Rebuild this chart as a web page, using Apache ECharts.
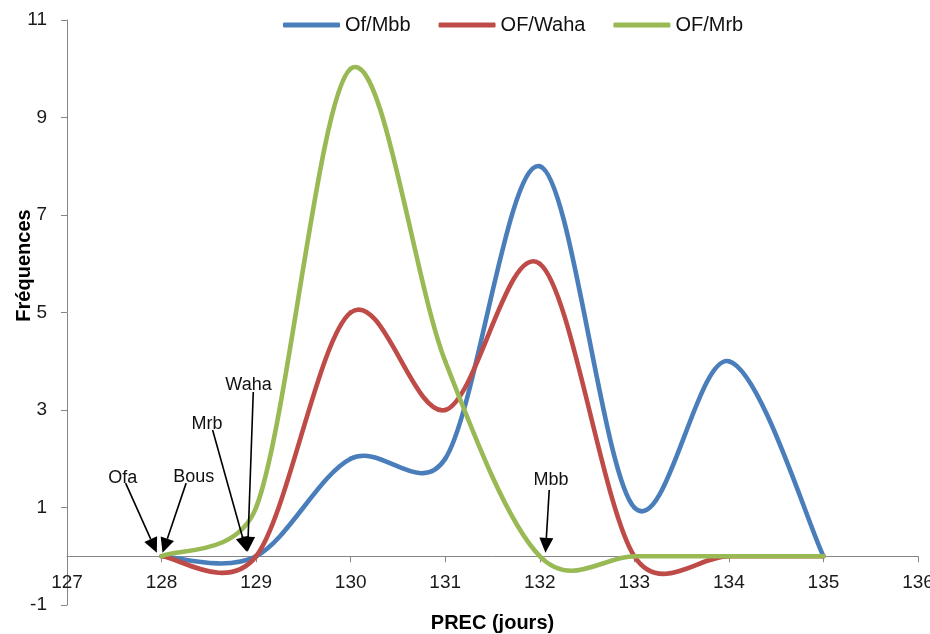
<!DOCTYPE html>
<html><head><meta charset="utf-8">
<script src="https://cdn.jsdelivr.net/npm/echarts@6/dist/echarts.min.js"></script>
<style>html,body{margin:0;padding:0;background:#fff}#c{width:930px;height:634px}</style>
</head><body><div id="c"></div>
<script>
// ---- data ----
const xValues = [128, 129, 130, 131, 132, 133, 134, 135];
const ofMbb   = [0, 0, 2, 2, 8, 1, 4, 0];
const ofWaha  = [0, 0, 5, 3, 6, 0, 0, 0];
const ofMrb   = [0, 1, 10, 4, 0, 0, 0, 0];
const seriesNames = ['Of/Mbb', 'OF/Waha', 'OF/Mrb'];
const xAxisRange = [127, 136];
const yAxisRange = [-1, 11];
// annotation arrows (data coordinates)
const annotationLabels = ['Ofa', 'Bous', 'Mrb', 'Waha', 'Mbb'];
const annotationFrom = [[127.62, 1.50], [128.26, 1.50], [128.54, 2.59], [128.97, 3.37], [132.10, 1.36]];
const annotationTo   = [[127.95, 0.07], [128.01, 0.07], [128.90, 0.09], [128.91, 0.09], [132.06, 0.07]];
const annotationText = [[127.59, 1.61], [128.34, 1.63], [128.48, 2.71], [128.92, 3.51], [132.12, 1.56]];

const FONT = 'Liberation Sans, Arial, sans-serif';
const colors = ['#4A7EBB', '#BE4B48', '#98B954'];
const GRID = { left: 67, right: 12, top: 20, bottom: 29 };
// shift the x axis (line, ticks, labels, name) up to the y = 0 position
const xAxisOffset = -(634 - GRID.top - GRID.bottom) / (yAxisRange[1] - yAxisRange[0]) * (0 - yAxisRange[0]);

function curveSeries(name, values, color) {
  const n = xValues.length;
  return {
    type: 'custom', name: name, coordinateSystem: 'cartesian2d',
    data: xValues.map((x, i) => [x, values[i]]),
    encode: { x: 0, y: 1 },
    itemStyle: { color: color },
    renderItem: function (params, api) {
      const i = params.dataIndex;
      if (i >= n - 1) return { type: 'group', children: [] };
      const P = j => { const k = Math.max(0, Math.min(n - 1, j)); return api.coord([xValues[k], values[k]]); };
      const p0 = P(i - 1), p1 = P(i), p2 = P(i + 1), p3 = P(i + 2);
      const seg = Math.hypot(p2[0] - p1[0], p2[1] - p1[1]);
      const lim = v => { const L = Math.hypot(v[0], v[1]); const m = 0.5 * seg; return (L > m && L > 0) ? [v[0] * m / L, v[1] * m / L] : v; };
      const t1 = lim([(p2[0] - p0[0]) / 6, (p2[1] - p0[1]) / 6]);
      const t2 = lim([(p3[0] - p1[0]) / 6, (p3[1] - p1[1]) / 6]);
      return {
        type: 'bezierCurve',
        shape: { x1: p1[0], y1: p1[1], x2: p2[0], y2: p2[1],
                 cpx1: p1[0] + t1[0], cpy1: p1[1] + t1[1], cpx2: p2[0] - t2[0], cpy2: p2[1] - t2[1] },
        style: { stroke: color, lineWidth: 4.6, fill: 'none', lineCap: 'round' }
      };
    }
  };
}

const annotationSeries = {
  type: 'custom', name: 'annotations', coordinateSystem: 'cartesian2d',
  data: annotationTo.map(p => [p[0], p[1]]),
  encode: { x: 0, y: 1 },
  silent: true,
  renderItem: function (params, api) {
    const i = params.dataIndex;
    const a = api.coord(annotationFrom[i]), b = api.coord(annotationTo[i]), t = api.coord(annotationText[i]);
    const dx = b[0] - a[0], dy = b[1] - a[1], L = Math.hypot(dx, dy), ux = dx / L, uy = dy / L;
    const hl = 15, hw = 7;
    const base = [b[0] - ux * hl, b[1] - uy * hl];
    return {
      type: 'group', children: [
        { type: 'line', shape: { x1: a[0], y1: a[1], x2: base[0], y2: base[1] }, style: { stroke: '#000', lineWidth: 1.6 } },
        { type: 'polygon', shape: { points: [b, [base[0] - uy * hw, base[1] + ux * hw], [base[0] + uy * hw, base[1] - ux * hw]] }, style: { fill: '#000' } },
        { type: 'text', x: t[0], y: t[1], style: { text: annotationLabels[i], fill: '#111', fontSize: 18, fontFamily: FONT, align: 'center', verticalAlign: 'middle' } }
      ]
    };
  }
};

const chart = echarts.init(document.getElementById('c'), null, { renderer: 'canvas' });
chart.setOption({
  animation: false,
  backgroundColor: '#fff',
  textStyle: { fontFamily: FONT },
  grid: Object.assign({ containLabel: false, outerBoundsMode: 'none' }, GRID),
  legend: {
    data: seriesNames,
    left: 278, top: 10,
    icon: 'roundRect', itemWidth: 57, itemHeight: 5, itemGap: 28,
    textStyle: { fontSize: 20, color: '#111', fontFamily: FONT }
  },
  xAxis: {
    type: 'value', min: xAxisRange[0], max: xAxisRange[1], interval: 1,
    position: 'bottom', offset: xAxisOffset,
    name: 'PREC (jours)', nameLocation: 'middle', nameGap: 57, nameMoveOverlap: false,
    nameTextStyle: { fontSize: 20, fontWeight: 'bold', color: '#000', fontFamily: FONT },
    axisLine: { show: true, onZero: false, lineStyle: { color: '#868686', width: 1 } },
    axisTick: { show: true, length: 6, lineStyle: { color: '#868686' } },
    axisLabel: { fontSize: 19, color: '#1a1a1a', margin: 17 },
    splitLine: { show: false }
  },
  yAxis: {
    type: 'value', min: yAxisRange[0], max: yAxisRange[1], interval: 2,
    name: 'Fréquences', nameLocation: 'middle', nameGap: 33, nameMoveOverlap: false,
    nameTextStyle: { fontSize: 20, fontWeight: 'bold', color: '#000', fontFamily: FONT, padding: [0, 0, 0, 94] },
    axisLine: { show: true, lineStyle: { color: '#868686', width: 1 } },
    axisTick: { show: true, length: 6, lineStyle: { color: '#868686' } },
    axisLabel: { fontSize: 19, color: '#1a1a1a', margin: 20 },
    splitLine: { show: false }
  },
  series: [
    curveSeries(seriesNames[0], ofMbb, colors[0]),
    curveSeries(seriesNames[1], ofWaha, colors[1]),
    curveSeries(seriesNames[2], ofMrb, colors[2]),
    annotationSeries
  ]
});
</script>
</body></html>
